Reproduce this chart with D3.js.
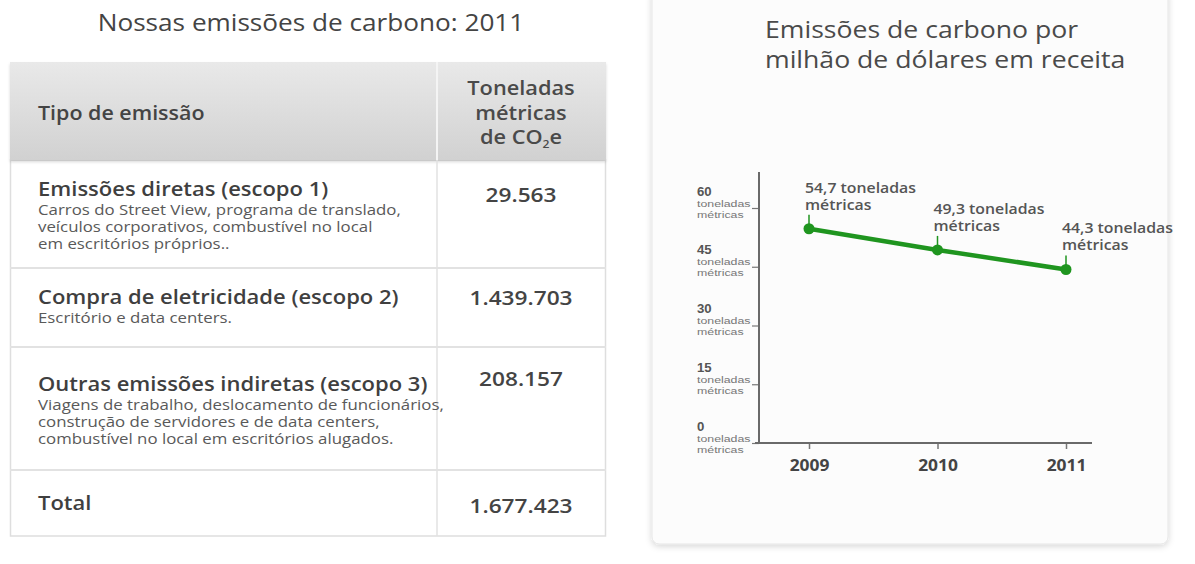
<!DOCTYPE html>
<html lang="pt-BR">
<head>
<meta charset="utf-8">
<script src="https://cdn.jsdelivr.net/npm/d3@7/dist/d3.min.js"></script>
<style>
  html, body { margin: 0; padding: 0; background: #ffffff; }
  svg { display: block; font-family: "Open Sans", "Noto Sans", sans-serif; }
</style>
</head>
<body>
<svg id="chart" width="1195" height="564"></svg>
<script>
// ---- Table data: emissions by scope, 2011 ----
const tableTitle = "Nossas emissões de carbono: 2011";
const headerLeft = "Tipo de emissão";
const headerRight = ["Toneladas", "métricas", "de CO₂e"];
const emissionTypes = [
  "Emissões diretas (escopo 1)",
  "Compra de eletricidade (escopo 2)",
  "Outras emissões indiretas (escopo 3)",
  "Total"
];
const emissionNotes = [
  ["Carros do Street View, programa de translado,", "veículos corporativos, combustível no local", "em escritórios próprios.."],
  ["Escritório e data centers."],
  ["Viagens de trabalho, deslocamento de funcionários,", "construção de servidores e de data centers,", "combustível no local em escritórios alugados."],
  []
];
const emissionTonnes = [29563, 1439703, 208157, 1677423];

// ---- Line chart data: tonnes per million dollars of revenue ----
const chartTitle = ["Emissões de carbono por", "milhão de dólares em receita"];
const years = [2009, 2010, 2011];
const tonnesPerMillion = [54.7, 49.3, 44.3];
const yTickValues = [0, 15, 30, 45, 60];
const unitLabel = ["toneladas", "métricas"];

const ptBR = d3.formatLocale({ decimal: ",", thousands: ".", grouping: [3], currency: ["R$", ""] });
const fmtInt = ptBR.format(",d");
const fmtDec = ptBR.format(".1f");

// The lettering of this graphic is set slightly wide: every text is
// stretched horizontally around its anchor point.
const WIDE = 1.1;
function place(sel, x, y, sx = WIDE) {
  sel.attr("x", 0).attr("y", 0)
    .attr("transform", (d, i) => {
      const xx = typeof x === "function" ? x(d, i) : x;
      const yy = typeof y === "function" ? y(d, i) : y;
      return `translate(${xx},${yy}) scale(${sx},1)`;
    });
  return sel;
}

const svg = d3.select("#chart");
const defs = svg.append("defs");

const hdrGrad = defs.append("linearGradient").attr("id", "hdrGrad").attr("x1", 0).attr("y1", 0).attr("x2", 0).attr("y2", 1);
hdrGrad.append("stop").attr("offset", "0%").attr("stop-color", "#e9e9e9");
hdrGrad.append("stop").attr("offset", "100%").attr("stop-color", "#d1d1d1");

const shadow = defs.append("filter").attr("id", "cardShadow").attr("x", "-5%").attr("y", "-5%").attr("width", "110%").attr("height", "110%");
shadow.append("feDropShadow").attr("dx", 0).attr("dy", 2).attr("stdDeviation", 3).attr("flood-color", "#000").attr("flood-opacity", 0.16);

const hdrShadow = defs.append("filter").attr("id", "hdrShadow").attr("x", "-2%").attr("y", "-10%").attr("width", "104%").attr("height", "130%");
hdrShadow.append("feDropShadow").attr("dx", 0).attr("dy", 2).attr("stdDeviation", 1.5).attr("flood-color", "#000").attr("flood-opacity", 0.15);

// ================= TABLE =================
const T = { left: 10, right: 606, top: 62, headBottom: 160, colX: 437, bottom: 536 };
const rowTops = [160, 268, 347, 470];
const valueX = 521;

place(svg.append("text"), 311, 31)
  .attr("text-anchor", "middle")
  .attr("font-size", 23.8).attr("fill", "#444")
  .text(tableTitle);

// body frame
svg.append("rect")
  .attr("x", T.left + 0.5).attr("y", T.headBottom)
  .attr("width", T.right - T.left - 1).attr("height", T.bottom - T.headBottom)
  .attr("fill", "#fff").attr("stroke", "#dedede").attr("stroke-width", 1.5);

// header
svg.append("rect")
  .attr("x", T.left).attr("y", T.top)
  .attr("width", T.right - T.left).attr("height", T.headBottom - T.top)
  .attr("fill", "url(#hdrGrad)").attr("filter", "url(#hdrShadow)");
svg.append("line")
  .attr("x1", T.colX).attr("x2", T.colX).attr("y1", T.top).attr("y2", T.headBottom)
  .attr("stroke", "#f4f4f4").attr("stroke-width", 2);

place(svg.append("text"), 38, 120)
  .attr("font-size", 19.5).attr("font-weight", 600).attr("fill", "#444")
  .text(headerLeft);

place(svg.append("g").selectAll("text").data(headerRight).join("text"), valueX, (d, i) => 95 + i * 24.5)
  .attr("text-anchor", "middle")
  .attr("font-size", 19.8).attr("font-weight", 600).attr("fill", "#4a4a4a")
  .each(function (d) {
    const t = d3.select(this);
    if (d.includes("₂")) {
      const [a, b] = d.split("₂");
      t.append("tspan").text(a);
      t.append("tspan").attr("font-size", 11).attr("dy", 4).text("2");
      t.append("tspan").attr("dy", -4).text(b);
    } else {
      t.text(d);
    }
  });

// column divider in body
svg.append("line")
  .attr("x1", T.colX).attr("x2", T.colX).attr("y1", T.headBottom).attr("y2", T.bottom)
  .attr("stroke", "#e2e2e2").attr("stroke-width", 1.5);

// row separators
svg.append("g").selectAll("line").data(rowTops.slice(1)).join("line")
  .attr("x1", T.left).attr("x2", T.right)
  .attr("y1", d => d).attr("y2", d => d)
  .attr("stroke", "#e2e2e2").attr("stroke-width", 2);

const rowTitleOffset = [36, 36, 44, 40];
const rowValueOffset = [42, 37, 39, 43];
const rows = svg.append("g").selectAll("g").data(emissionTypes).join("g");

rows.each(function (d, i) {
  const g = d3.select(this);
  place(g.append("text"), 38, rowTops[i] + rowTitleOffset[i])
    .attr("font-size", 20).attr("font-weight", 600).attr("fill", "#3f3f3f")
    .text(d);
  place(g.selectAll("text.note").data(emissionNotes[i]).join("text").attr("class", "note"),
        38, (n, j) => rowTops[i] + rowTitleOffset[i] + 19 + j * 17)
    .attr("font-size", 15.3).attr("fill", "#595959")
    .text(n => n);
  place(g.append("text"), valueX, rowTops[i] + rowValueOffset[i])
    .attr("text-anchor", "middle")
    .attr("font-size", 20.6).attr("font-weight", 600).attr("fill", "#444")
    .text(fmtInt(emissionTonnes[i]));
});

// ================= LINE CHART CARD =================
svg.append("rect")
  .attr("x", 652).attr("y", -12).attr("width", 516).attr("height", 556)
  .attr("rx", 7)
  .attr("fill", "#fcfcfc").attr("stroke", "#e6e6e6").attr("stroke-width", 1)
  .attr("filter", "url(#cardShadow)");

place(svg.append("g").selectAll("text").data(chartTitle).join("text"), 765, (d, i) => 38 + i * 30)
  .attr("font-size", 24.2).attr("fill", "#4a4a4a")
  .text(d => d);

const x = d3.scaleLinear().domain([2009, 2011]).range([809, 1066]);
const y = d3.scaleLinear().domain([0, 60]).range([443, 208]);
const axisX0 = 759;

// y axis: ticks with a value and a two-line unit label
const yAxis = d3.axisLeft(y).tickValues(yTickValues).tickSize(7).tickPadding(0).tickSizeOuter(0).tickFormat("");
const gy = svg.append("g").attr("transform", `translate(${axisX0},0)`).call(yAxis);
gy.select(".domain").remove();
gy.selectAll(".tick line").attr("stroke", "#777").attr("stroke-width", 1.2);
gy.selectAll(".tick").each(function (v) {
  const g = d3.select(this);
  place(g.append("text"), -62, -13)
    .attr("text-anchor", "start")
    .attr("font-size", 12).attr("font-weight", 700).attr("fill", "#555").text(v);
  place(g.selectAll("text.unit").data(unitLabel).join("text").attr("class", "unit"), -62, (d, i) => -2 + i * 11, 1.3)
    .attr("text-anchor", "start")
    .attr("font-size", 9.5).attr("fill", "#777").text(d => d);
});
svg.append("line")
  .attr("x1", axisX0).attr("x2", axisX0).attr("y1", 172).attr("y2", y(0) + 1)
  .attr("stroke", "#6a6a6a").attr("stroke-width", 2);

// x axis
const xAxis = d3.axisBottom(x).tickValues(years).tickSize(6).tickPadding(8).tickSizeOuter(0).tickFormat(d3.format("d"));
const gx = svg.append("g").attr("transform", `translate(0,${y(0)})`).call(xAxis);
gx.select(".domain").remove();
gx.selectAll(".tick line").attr("stroke", "#777").attr("stroke-width", 1.5);
place(gx.selectAll(".tick text"), 0, 28)
  .attr("dy", null)
  .attr("font-size", 15.8).attr("font-weight", 700).attr("fill", "#444")
  .attr("font-family", "\"Open Sans\", sans-serif");
svg.append("line")
  .attr("x1", 755).attr("x2", 1092).attr("y1", y(0)).attr("y2", y(0))
  .attr("stroke", "#6a6a6a").attr("stroke-width", 2);

// series
const pts = years.map((yr, i) => ({ year: yr, value: tonnesPerMillion[i] }));
const lineGen = d3.line().x(d => x(d.year)).y(d => y(d.value));
svg.append("path").datum(pts)
  .attr("d", lineGen)
  .attr("fill", "none").attr("stroke", "#1f951f").attr("stroke-width", 4.5)
  .attr("stroke-linejoin", "round");

const pg = svg.append("g").selectAll("g").data(pts).join("g")
  .attr("transform", d => `translate(${x(d.year)},${y(d.value)})`);
pg.append("line").attr("x1", 0).attr("x2", 0).attr("y1", -14).attr("y2", 0)
  .attr("stroke", "#1f951f").attr("stroke-width", 1.5);
pg.append("circle").attr("r", 5.5).attr("fill", "#1f951f");
pg.each(function (d) {
  const g = d3.select(this);
  place(g.append("text"), -4, -36)
    .attr("font-size", 14.4).attr("font-weight", 600).attr("fill", "#555")
    .text(`${fmtDec(d.value)} toneladas`);
  place(g.append("text"), -4, -19)
    .attr("font-size", 14.4).attr("font-weight", 600).attr("fill", "#555")
    .text("métricas");
});
</script>
</body>
</html>
